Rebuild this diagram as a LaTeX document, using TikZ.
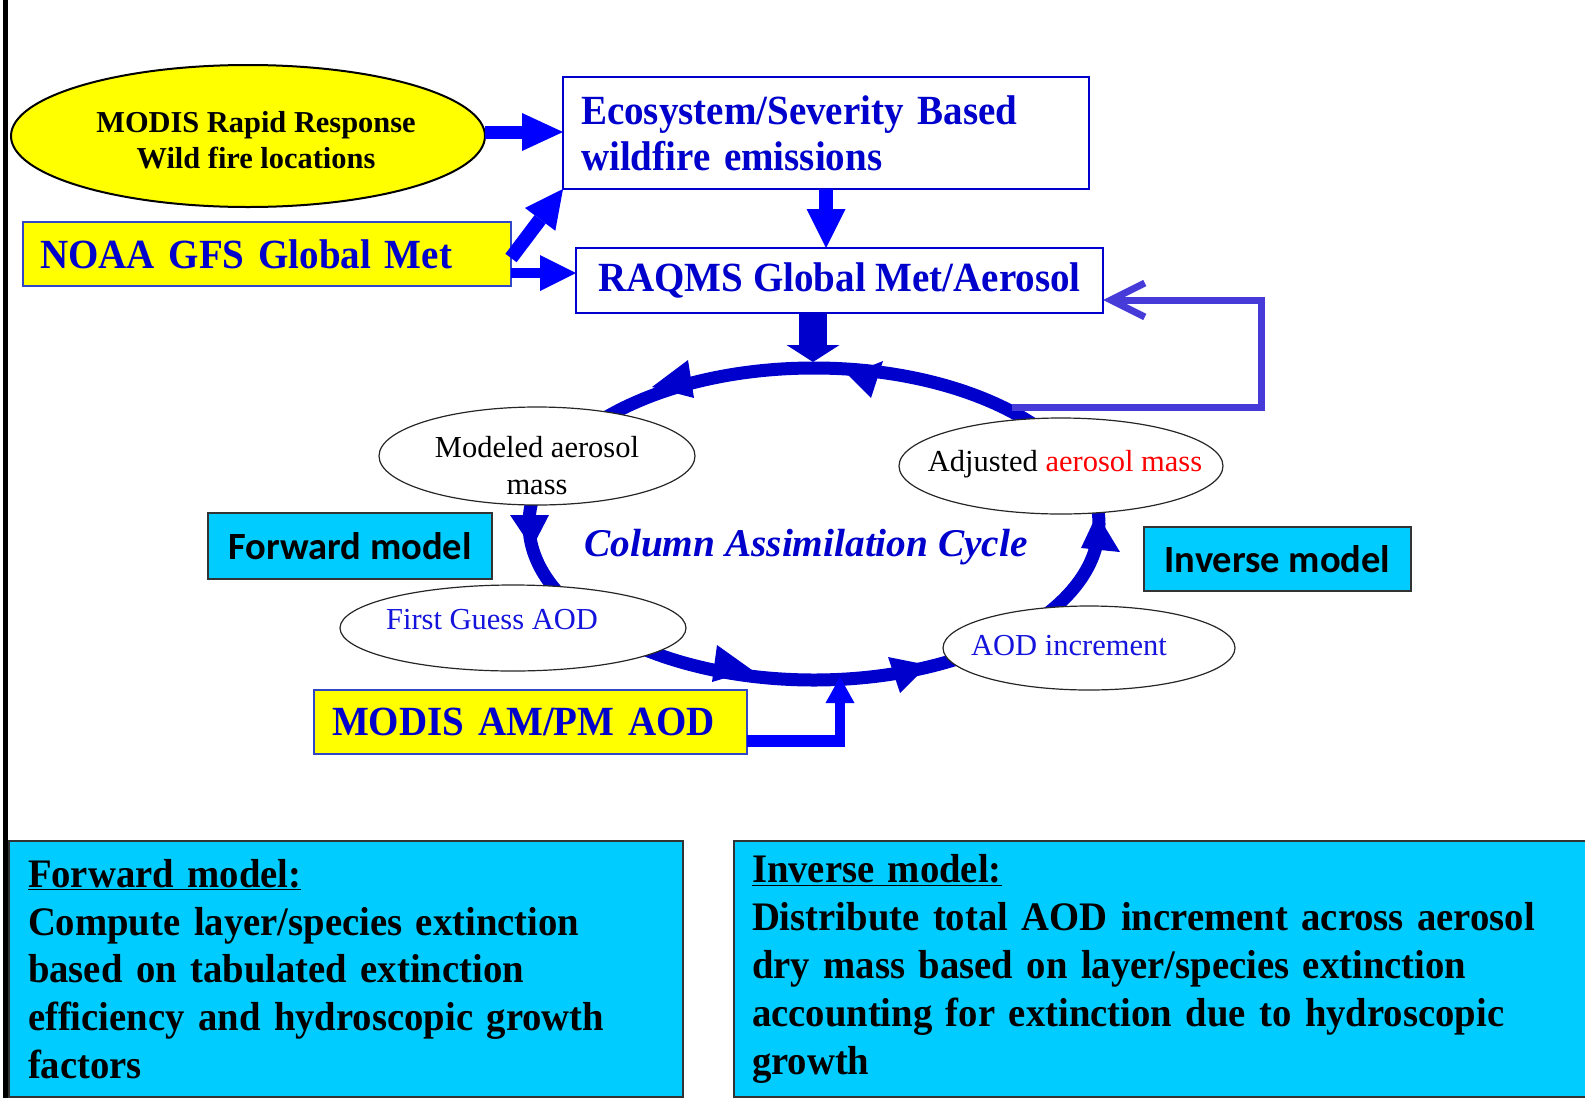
\documentclass[tikz,border=0pt]{standalone}
\usepackage{fontspec}
\setmainfont{Liberation Serif}
\newfontfamily\condserif[FakeStretch=0.94]{Liberation Serif}
\newfontfamily\noteserif[FakeStretch=0.955]{Liberation Serif}
\newfontfamily\calib{Carlito}
\usetikzlibrary{arrows.meta,shapes.geometric,calc}
\definecolor{dblue}{RGB}{0,0,204}
\definecolor{bblue}{RGB}{0,0,255}
\definecolor{tblue}{RGB}{20,20,220}
\definecolor{fbblue}{RGB}{70,58,216}
\definecolor{cyanbox}{RGB}{0,204,255}
\definecolor{ylw}{RGB}{255,255,0}
\definecolor{boxblue}{RGB}{50,70,200}
\newcommand{\setfs}[2]{\fontsize{#1pt}{#2pt}\selectfont}
\newcommand{\boxfont}{\condserif\setfs{41.5}{46}\bfseries}
\newcommand{\notefont}{\noteserif\setfs{40.5}{47.8}\bfseries}
\tikzset{
 lbl/.style={inner sep=0pt, outer sep=0pt},
 rbox/.style={lbl, anchor=north west, line width=1.5pt},
 wbox/.style={rbox, draw=dblue, fill=white, text=dblue, font=\boxfont},
 ybox/.style={rbox, draw=boxblue, fill=ylw, text=dblue, font=\boxfont},
 cbox/.style={rbox, draw=black!80, fill=cyanbox, text=black, font=\calib\setfs{38.5}{46}\bfseries},
 nbox/.style={rbox, draw=black!80, fill=cyanbox, text=black, font=\notefont, align=left},
 cell/.style={lbl, ellipse, draw=black!85, line width=1.2pt, fill=white},
 celltxt/.style={lbl, font=\setfs{30.5}{37}, align=center},
 fat/.style={draw=bblue, line width=#1},
 cyc/.style={draw=dblue, line width=13pt},
 cychead/.style={fill=dblue},
 fb/.style={draw=fbblue, line width=7pt, -{Straight Barb[length=34pt,width=34pt]}},
}
\begin{document}
\begin{tikzpicture}[x=1pt,y=-1pt]
\useasboundingbox (0,0) rectangle (1585,1098);
\clip (0,0) rectangle (1585,1098);
\fill[black] (3,0) rectangle (8,1098);

% top boxes
\node[lbl, ellipse, draw=black, line width=2pt, fill=ylw, minimum width=474pt, minimum height=142pt] (modis) at (248,136) {};
\node[lbl, font=\setfs{30.4}{36}\bfseries, align=center] (modist) at (256,140) {MODIS Rapid Response\\Wild fire locations};
\node[wbox, minimum width=526pt, minimum height=112pt, text width=490pt, inner xsep=18pt, align=left] (eco) at (563,77) {Ecosystem/Severity Based\\wildfire emissions};
\node[wbox, minimum width=527pt, minimum height=65pt] (raqms) at (576,248) {RAQMS Global Met/Aerosol};
\node[ybox, minimum width=488pt, minimum height=64pt, text width=454pt, inner xsep=17pt, align=left] (noaa) at (23,222) {NOAA GFS Global Met};
\node[ybox, minimum width=433pt, minimum height=64pt, text width=397pt, inner xsep=18pt, align=left] (aod) at (314,690) {MODIS AM/PM AOD};
\node[cbox, minimum width=284pt, minimum height=66pt] (fwd) at (208,513) {Forward model};
\node[cbox, minimum width=267pt, minimum height=64pt] (inv) at (1144,527) {Inverse model};

% cycle
\coordinate (cyc) at (814,524);
\draw[cyc] (cyc) ellipse[x radius=285, y radius=156];
\fill[cychead] (848,375) -- (883,361) -- (871,398) -- cycle;
\fill[cychead] (652,387) -- (688,360) -- (694,398) -- cycle;
\fill[cychead] (510,515) -- (549,515) -- (532,548) -- cycle;
\fill[cychead] (717,645) -- (752,670) -- (712,682) -- cycle;
\fill[cychead] (888,657) -- (928,665) -- (900,693) -- cycle;
\fill[cychead] (1081,548) -- (1120,552) -- (1097,514) -- cycle;

% feedback
\coordinate (fbs) at (1012,407);
\coordinate (fbc) at (1261,300);
\draw[fb] (fbs) -| (fbc) -- (fbc -| raqms.east);

% cells
\node[cell, minimum width=316pt, minimum height=98pt] (modeled) at (537,456) {};
\node[celltxt] (modeledt) at (537,466) {Modeled aerosol\\mass};
\node[cell, minimum width=324pt, minimum height=96pt] (adjusted) at (1061,466) {};
\node[celltxt] (adjustedt) at (1065,464) {Adjusted \textcolor{red}{aerosol mass}};
\node[cell, minimum width=346pt, minimum height=86pt] (guess) at (513,628) {};
\node[celltxt, text=tblue] (guesst) at (492,620) {First Guess AOD};
\node[cell, minimum width=292pt, minimum height=84pt] (incr) at (1089,648) {};
\node[celltxt, text=tblue] (incrt) at (1069,646) {AOD increment};
\node[lbl, text=dblue, font=\setfs{39.3}{46}\bfseries\itshape] (cyct) at (806,547) {Column Assimilation Cycle};

% arrows
\coordinate (m1) at ($(modis.east)+(0,-4)$);
\draw[fat=13pt, -{Triangle[length=41pt,width=38pt,line width=0pt]}] (m1) -- (m1 -| eco.west);
\draw[fat=14pt, -{Triangle[length=38pt,width=38pt,line width=0pt]}] ($(noaa.east)+(0,4)$) -- (eco.south west);
\coordinate (n1) at ($(noaa.east)+(0,19)$);
\draw[fat=10pt, -{Triangle[length=36pt,width=36pt,line width=0pt]}] (n1) -- (n1 -| raqms.west);
\draw[fat=14pt, -{Triangle[length=39pt,width=39pt,line width=0pt]}] (eco.south) -- (eco.south |- raqms.north);
\coordinate (ctop) at (813,362);
\draw[draw=dblue, line width=28pt, -{Triangle[length=17pt,width=53pt,line width=0pt]}] (ctop |- raqms.south) -- (ctop);
\coordinate (cbot) at (840,677);
\coordinate (aodout) at ($(aod.east)+(0,19)$);
\draw[fat=12pt] (aodout) -- ($(aodout -| cbot)+(5,0)$);
\draw[fat=10pt, -{Triangle[length=26pt,width=29pt,line width=0pt]}] ($(aodout -| cbot)+(0,6)$) -- (cbot);

% notes
\node[nbox, minimum width=674pt, minimum height=256pt, text width=636pt, inner xsep=19pt] (fwdnote) at (9,841) {\underline{Forward model:}\\Compute layer/species extinction\\based on tabulated extinction\\efficiency and hydroscopic growth\\factors};
\node[nbox, minimum height=256pt, text width=832pt, inner xsep=18pt] (invnote) at (734,841) {\underline{Inverse model:}\\Distribute total AOD increment across aerosol\\dry mass based on layer/species extinction\\accounting for extinction due to hydroscopic\\growth};
\end{tikzpicture}
\end{document}
